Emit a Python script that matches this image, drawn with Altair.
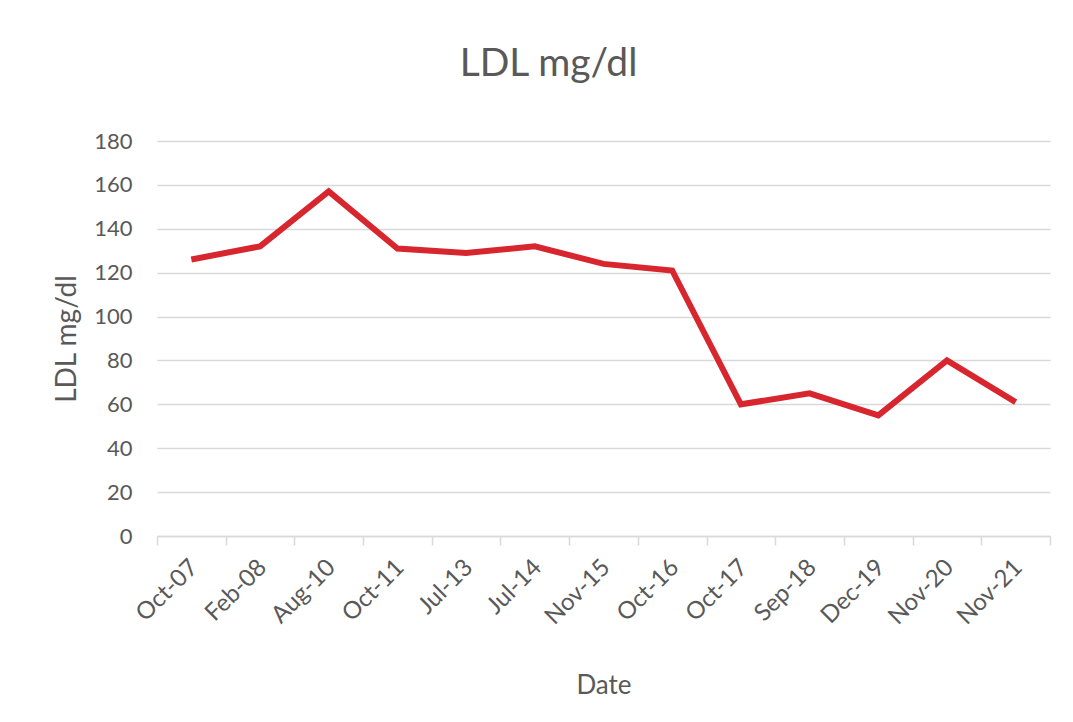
import altair as alt
import pandas as pd

dates = ["Oct-07", "Feb-08", "Aug-10", "Oct-11", "Jul-13", "Jul-14", "Nov-15",
         "Oct-16", "Oct-17", "Sep-18", "Dec-19", "Nov-20", "Nov-21"]
ldl = [126, 132, 157, 131, 129, 132, 124, 121, 60, 65, 55, 80, 61]

df = pd.DataFrame({"idx": list(range(len(dates))), "date": dates, "ldl": ldl})

n = len(dates)
tick_vals = [i * 0.5 - 0.5 for i in range(2 * n + 1)]
label_arr = "[" + ",".join("'" + d + "'" for d in dates) + "]"

FONT = "Lato"
TXT = "#595959"
GRID = "#d9d9d9"

x_axis = alt.Axis(
    title="Date",
    values=tick_vals,
    labelExpr=f"datum.value % 1 == 0 ? {label_arr}[datum.value] : ''",
    labelAngle=-45,
    labelOverlap=False,
    labelFontSize=24,
    labelColor=TXT,
    labelFont=FONT,
    labelPadding=10,
    labelOffset=-6,
    tickOpacity={"condition": {"test": "datum.value % 1 == 0", "value": 0}, "value": 1},
    tickColor=GRID,
    tickSize=9,
    tickWidth=1.5,
    domainColor=GRID,
    domainWidth=1.5,
    grid=False,
    titleFont=FONT,
    titleFontSize=26,
    titleFontWeight="normal",
    titleColor=TXT,
    titlePadding=44,
)

y_axis = alt.Axis(
    title="LDL mg/dl",
    values=list(range(0, 181, 20)),
    domain=False,
    ticks=False,
    labelFontSize=22,
    labelColor=TXT,
    labelFont=FONT,
    labelPadding=25,
    gridColor=GRID,
    gridWidth=1.5,
    titleFont=FONT,
    titleFontSize=28,
    titleFontWeight="normal",
    titleColor=TXT,
    titlePadding=12,
)

line = alt.Chart(df).mark_line(color="#d7262e", strokeWidth=6, strokeJoin="miter").encode(
    x=alt.X("idx:Q", scale=alt.Scale(domain=[-0.5, n - 0.5], nice=False, zero=False), axis=x_axis),
    y=alt.Y("ldl:Q", scale=alt.Scale(domain=[0, 180], nice=False), axis=y_axis),
)

chart = line.properties(
    width=893,
    height=395,
    autosize=alt.AutoSizeParams(type="none"),
    padding={"left": 149, "top": 133, "right": 15, "bottom": 170},
    title=alt.TitleParams(
        "LDL mg/dl", font=FONT, fontSize=39, fontWeight="normal", color=TXT,
        anchor="middle", dx=-55, offset=46,
    ),
).configure(background="white").configure_view(stroke=None, strokeWidth=0)

chart.save("out.html", embed_options={"renderer": "svg", "actions": False})
